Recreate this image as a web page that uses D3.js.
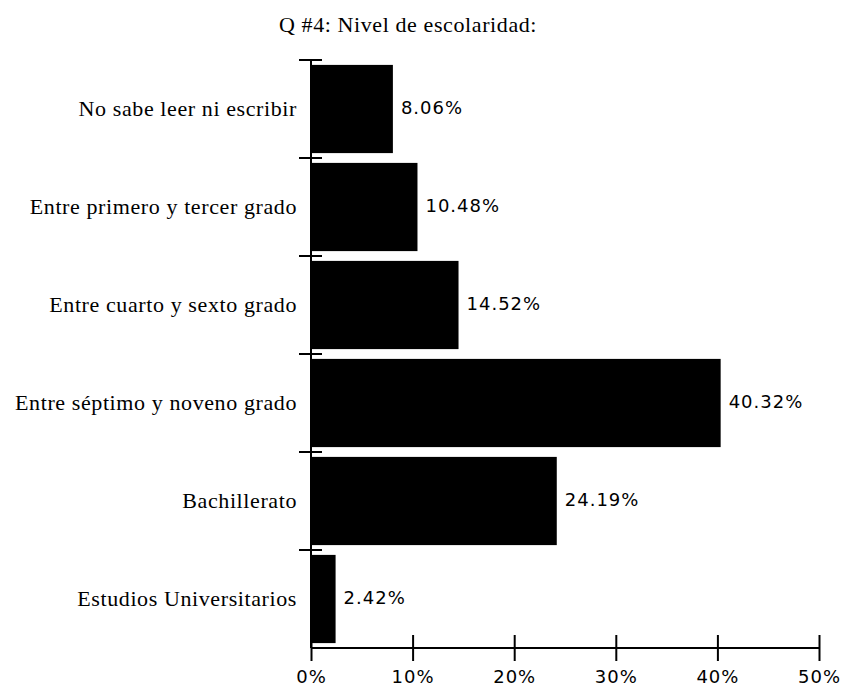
<!DOCTYPE html>
<html>
<head>
<meta charset="utf-8">
<script src="https://cdn.jsdelivr.net/npm/d3@7"></script>
<style>
  html, body { margin: 0; padding: 0; background: #fff; }
  svg { display: block; }
</style>
</head>
<body>
<svg id="chart" width="843" height="688"></svg>
<script>
const title = "Q #4: Nivel de escolaridad:";
const categories = [
  "No sabe leer ni escribir",
  "Entre primero y tercer grado",
  "Entre cuarto y sexto grado",
  "Entre séptimo y noveno grado",
  "Bachillerato",
  "Estudios Universitarios"
];
const values = [8.06, 10.48, 14.52, 40.32, 24.19, 2.42];
const valueLabels = ["8.06%", "10.48%", "14.52%", "40.32%", "24.19%", "2.42%"];
const xTicks = [0, 10, 20, 30, 40, 50];
const xTickLabels = ["0%", "10%", "20%", "30%", "40%", "50%"];

const svg = d3.select("#chart");
const plotLeft = 311, plotRight = 819, plotTop = 60, plotBottom = 648;

const x = d3.scaleLinear().domain([0, 50]).range([plotLeft, plotRight]);
const y = d3.scaleBand().domain(categories).range([plotTop, plotBottom])
  .paddingInner(0.1).paddingOuter(0.05);

const serif = "'Liberation Serif', 'Times New Roman', serif";
const sans = "'DejaVu Sans', sans-serif";

// Title
svg.append("text")
  .attr("x", 408).attr("y", 32)
  .attr("text-anchor", "middle")
  .attr("font-family", serif).attr("font-size", 22)
  .attr("letter-spacing", 0.6)
  .attr("fill", "#000")
  .text(title);

// Bars
svg.append("g").selectAll("rect")
  .data(categories)
  .join("rect")
  .attr("x", x(0))
  .attr("y", d => y(d))
  .attr("width", (d, i) => x(values[i]) - x(0))
  .attr("height", y.bandwidth())
  .attr("fill", "#000");

// Value labels
svg.append("g").selectAll("text")
  .data(categories)
  .join("text")
  .attr("x", (d, i) => x(values[i]) + 8)
  .attr("y", d => y(d) + y.bandwidth() / 2)
  .attr("dy", "0.3em")
  .attr("font-family", sans).attr("font-size", 18)
  .attr("letter-spacing", 1)
  .attr("fill", "#000")
  .text((d, i) => valueLabels[i]);

// Y axis (category labels)
const yAxis = svg.append("g")
  .attr("transform", `translate(${plotLeft},0)`)
  .call(d3.axisLeft(y).tickSize(0).tickPadding(14));
yAxis.select(".domain").remove();
yAxis.selectAll("text")
  .attr("font-family", serif).attr("font-size", 22)
  .attr("letter-spacing", 0.6)
  .attr("fill", "#000");

// Y axis line and boundary ticks
svg.append("line")
  .attr("x1", plotLeft).attr("x2", plotLeft)
  .attr("y1", plotTop).attr("y2", plotBottom)
  .attr("stroke", "#000").attr("stroke-width", 2);
const step = y.step();
const bounds = categories.map(c => y(c) - step * y.paddingInner() / 2);
svg.append("g").selectAll("line")
  .data(bounds)
  .join("line")
  .attr("x1", plotLeft - 12).attr("x2", plotLeft + 11)
  .attr("y1", d => d).attr("y2", d => d)
  .attr("stroke", "#000").attr("stroke-width", 2);

// X axis
const xAxis = svg.append("g")
  .attr("transform", `translate(0,${plotBottom})`)
  .call(d3.axisBottom(x).tickValues(xTicks)
    .tickFormat((d, i) => xTickLabels[i])
    .tickSizeOuter(0).tickSize(13).tickPadding(8));
xAxis.select(".domain").attr("stroke", "#000").attr("stroke-width", 2)
  .attr("d", `M${plotLeft},0H${plotRight}`);
xAxis.selectAll(".tick line")
  .attr("y1", -13).attr("y2", 13)
  .attr("stroke", "#000").attr("stroke-width", 2);
xAxis.selectAll(".tick text")
  .attr("y", 22)
  .attr("dy", "0.71em")
  .attr("font-family", sans).attr("font-size", 18)
  .attr("letter-spacing", 1)
  .attr("fill", "#000");
</script>
</body>
</html>
